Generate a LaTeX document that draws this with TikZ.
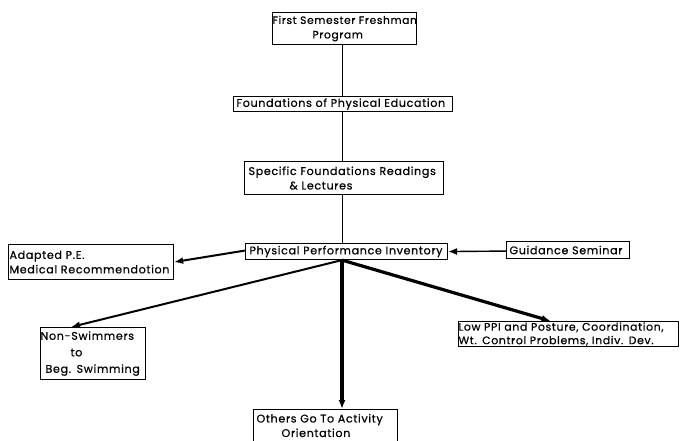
\documentclass[tikz,border=0pt]{standalone}
\usepackage{fontspec}
\setmainfont{Poppins}
\newfontfamily\boxfont{Poppins}[LetterSpace=6, WordSpace=1.5, FakeBold=0.6]
\usetikzlibrary{arrows.meta}
\hyphenpenalty=10000
\exhyphenpenalty=10000
\begin{document}
\begin{tikzpicture}[x=1pt,y=-1pt,
  box/.style={draw, line width=1.1pt, rectangle, inner sep=0pt, font=\boxfont\fontsize{11.1}{14.5}\selectfont, anchor=north west},
  thin/.style={line width=1pt},
  arr/.style={-{Latex[length=9pt,width=7pt]}},
  mid/.style={line width=2pt},
  thick/.style={line width=3.2pt}]
\useasboundingbox (0,0) rectangle (683,440);
\coordinate (spine) at (342,0);
\node[box, font=\boxfont\fontsize{10.7}{14.5}\selectfont, minimum width=144pt, minimum height=32pt, text width=144pt, align=left] (first) at (272,12) {\mbox{First Semester Freshman}\\\hspace*{40pt}Program};
\node[box, minimum width=219pt, minimum height=15pt, text width=217pt, align=left] (found) at (233,96) {\hspace*{2pt}Foundations of Physical Education};
\node[box, minimum width=199pt, minimum height=33pt, text width=197pt, align=left] (spec) at (244,161) {\hspace*{3pt}Specific Foundations Readings\\\hspace*{44pt}\& Lectures};
\node[box, minimum width=202pt, minimum height=16pt, text width=200pt, align=left] (ppi) at (245,243) {\hspace*{3pt}Physical Performance Inventory};
\node[box, minimum width=123pt, minimum height=17pt, text width=121pt, align=left] (guid) at (506,241) {\hspace*{2pt}Guidance Seminar};
\node[box, minimum width=165pt, minimum height=35pt, text width=163pt, align=left] (adapt) at (8,244) {Adapted P.E.\\Medical Recommendotion};
\node[box, font=\boxfont\fontsize{11.1}{16.5}\selectfont, minimum width=105pt, minimum height=52pt, text width=105pt, align=left] (swim) at (40,327) {Non-Swimmers\\\hspace*{30pt}to\\\hspace*{5pt}Beg. Swimming};
\node[box, font=\boxfont\fontsize{10.9}{13.5}\selectfont, minimum width=220pt, minimum height=25pt, text width=220pt, align=left] (low) at (458,321) {Low PPI and Posture, Coordination,\\Wt. Control Problems, Indiv. Dev.};
\node[box, minimum width=144pt, minimum height=32pt, text width=142pt, align=left] (others) at (253,409) {\hspace*{2pt}Others Go To Activity\\\hspace*{27pt}Orientation};
\draw[thin] (first.south -| spine) -- (found.north -| spine);
\draw[thin] (found.south -| spine) -- (spec.north -| spine);
\draw[thin] (spec.south -| spine) -- (ppi.north -| spine);
\coordinate (hub) at (ppi.south -| spine);
\draw[mid, arr] ([yshift=1pt]ppi.west) -- ([yshift=0pt]adapt.east);
\draw[line width=1.4pt, arr] ([yshift=-1pt]guid.west) -- (ppi.east);
\draw[mid, arr] (hub) -- ([xshift=-22pt]swim.north);
\draw[thick, arr] (hub) -- ([xshift=-18pt]low.north);
\draw[thick, arr] (hub) -- (others.north -| spine);
\end{tikzpicture}
\end{document}
